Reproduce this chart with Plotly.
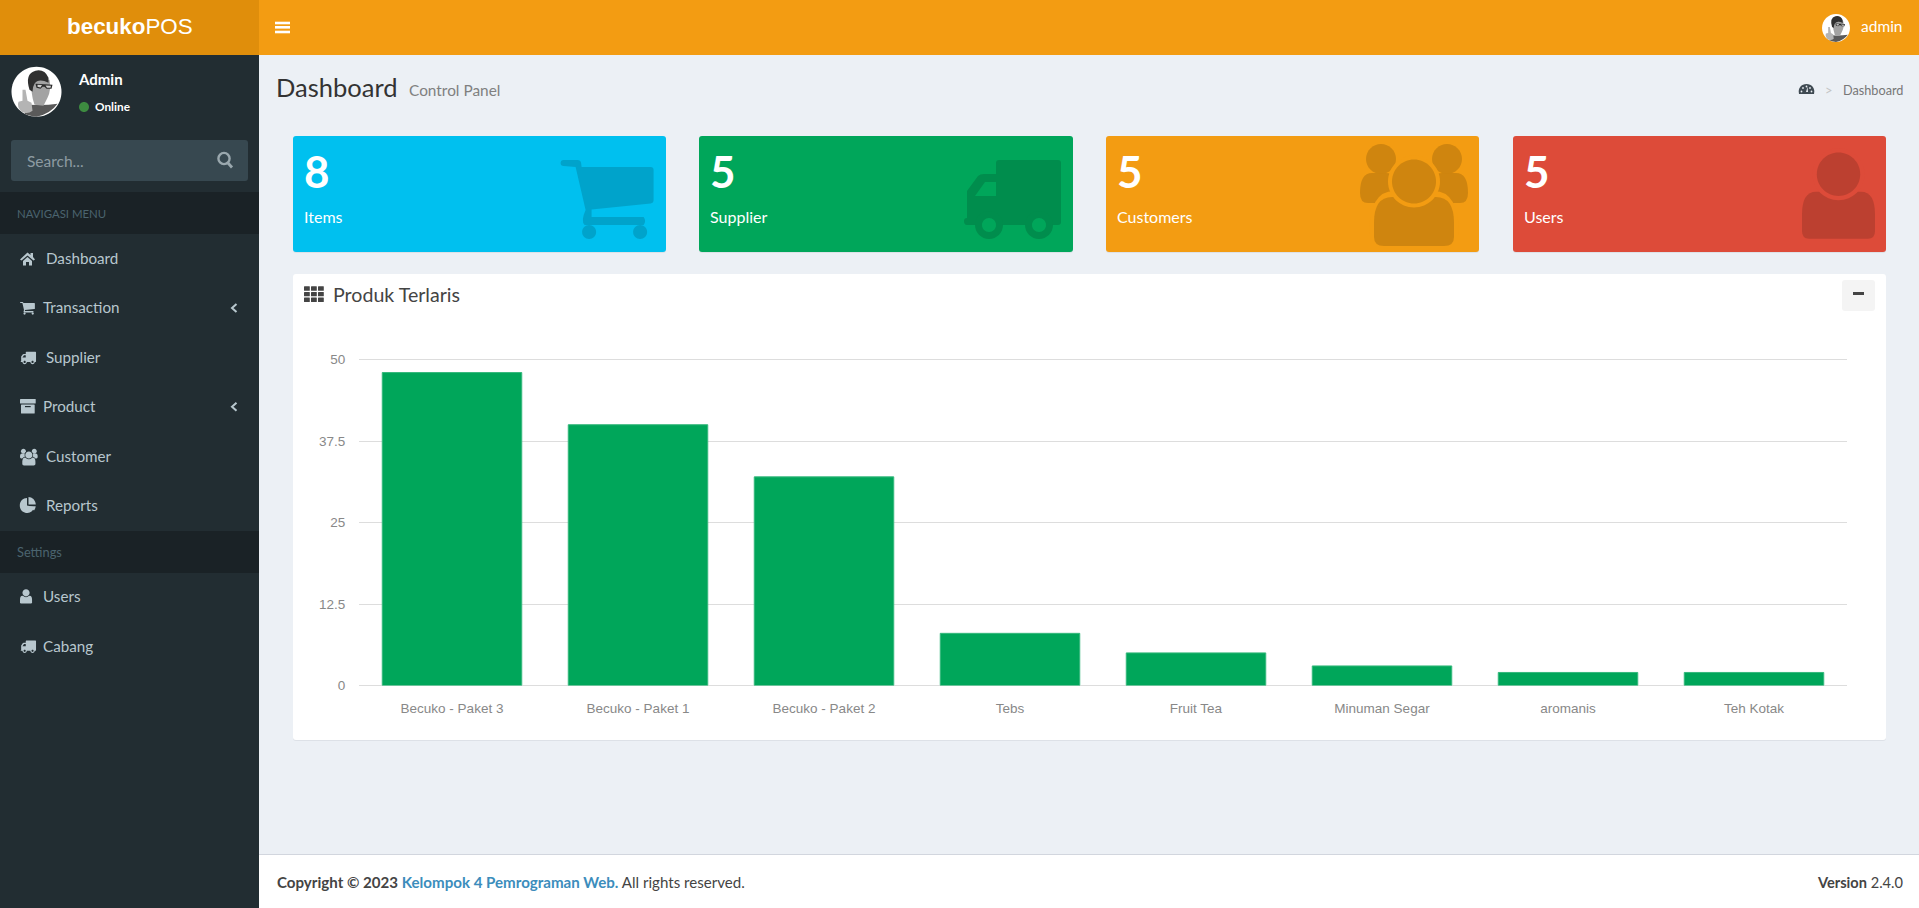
import re
import plotly.graph_objects as go  # main chart

W = 1919
H = 908

# CHART DATA
products = ["Becuko - Paket 3", "Becuko - Paket 1", "Becuko - Paket 2", "Tebs",
            "Fruit Tea", "Minuman Segar", "aromanis", "Teh Kotak"]
sold = [48, 40, 32, 8, 5, 3, 2, 2]
y_ticks = [0, 12.5, 25, 37.5, 50]
y_tick_labels = ["0", "12.5", "25", "37.5", "50"]

# CARD DATA
card_counts = ["8", "5", "5", "5"]
card_names = ["Items", "Supplier", "Customers", "Users"]

BODY = "Lato"
ARIAL = "Liberation Sans"
SIDEBAR = "#222d32"
MENU = "#b8c7ce"

shapes = []
notes = []


def flip_y(d):
    # pixel sized shapes count y upwards from the anchor, page coords count down
    count = [0]

    def repl(m):
        count[0] += 1
        if count[0] % 2 == 0:
            return f"{-float(m.group(0)):.2f}"
        return m.group(0)

    return re.sub(r"-?\d+\.?\d*", repl, d)


def path(d, fill=None, line=None, width=0):
    s = dict(type="path", path=flip_y(d), xref="paper", yref="paper", xsizemode="pixel", ysizemode="pixel",
             xanchor=0, yanchor=1, layer="below", line=dict(width=width, color=line or "rgba(0,0,0,0)"))
    if fill:
        s["fillcolor"] = fill
    shapes.append(s)


def rect(x0, y0, x1, y1, fill, r=0):
    if r == 0:
        d = f"M{x0} {y0} L{x1} {y0} L{x1} {y1} L{x0} {y1} Z"
    else:
        d = (f"M{x0+r} {y0} L{x1-r} {y0} Q{x1} {y0} {x1} {y0+r} L{x1} {y1-r} Q{x1} {y1} {x1-r} {y1} "
             f"L{x0+r} {y1} Q{x0} {y1} {x0} {y1-r} L{x0} {y0+r} Q{x0} {y0} {x0+r} {y0} Z")
    path(d, fill)


def circle_d(cx, cy, r):
    k = r * 0.5523
    return (f"M{cx-r} {cy} C{cx-r} {cy-k} {cx-k} {cy-r} {cx} {cy-r} C{cx+k} {cy-r} {cx+r} {cy-k} {cx+r} {cy} "
            f"C{cx+r} {cy+k} {cx+k} {cy+r} {cx} {cy+r} C{cx-k} {cy+r} {cx-r} {cy+k} {cx-r} {cy} Z")


def circle(cx, cy, r, fill):
    path(circle_d(cx, cy, r), fill)


def text(x, y, s, size, color, font=BODY, anchor="left"):
    notes.append(dict(x=x / W, y=1 - y / H, xref="paper", yref="paper", text=s, showarrow=False,
                      xanchor=anchor, yanchor="middle", borderpad=0, borderwidth=0,
                      font=dict(family=font, size=size, color=color)))


# ICONS, drawn from their big card size and scaled down for the menu
def pts(ox, oy, s, coords):
    out = []
    for c in coords:
        if isinstance(c, str):
            out.append(c)
        else:
            out.append(f"{ox + c[0] * s:.2f} {oy + c[1] * s:.2f}")
    return " ".join(out)


def cart(ox, oy, s, col):
    path(pts(ox, oy, s, ["M", (0, 3), "Q", (0, 0), (3, 0), "L", (17, 0), "Q", (20, 0), (20.5, 3), "L", (21, 7),
                         "L", (90, 7), "Q", (93, 7), (93, 10), "L", (93, 40), "Q", (93, 43), (90, 43.5),
                         "L", (31, 49.5), "L", (31, 57), "L", (83, 57), "Q", (86, 61), (83, 65),
                         "L", (24, 65), "Q", (20, 61), (25, 50), "L", (15, 7), "L", (3, 6), "Q", (0, 6), (0, 3), "Z"]), col)
    circle(ox + 28.5 * s, oy + 72 * s, 7 * s, col)
    circle(ox + 79.5 * s, oy + 72 * s, 7 * s, col)


def truck(ox, oy, s, col, bg):
    path(pts(ox, oy, s, ["M", (32, 3), "Q", (32, 0), (35, 0), "L", (94, 0), "Q", (97, 0), (97, 3), "L", (97, 62),
                         "Q", (97, 65), (94, 65), "L", (3, 65), "Q", (0, 65), (0, 61), "Q", (0, 58), (3, 58),
                         "L", (3, 31), "L", (14, 16), "Q", (16, 14), (20, 14), "L", (32, 14), "Z"]), col)
    path(pts(ox, oy, s, ["M", (21, 22), "L", (32, 22), "L", (32, 36), "L", (11, 36), "Z"]), bg)
    for wx in (25, 75):
        circle(ox + wx * s, oy + 65 * s, 14 * s, col)
        circle(ox + wx * s, oy + 65 * s, 7 * s, bg)


def people(ox, oy, s, col, bg):
    for bx in (0, 70):
        path(pts(ox, oy, s, ["M", (bx, 48), "Q", (bx, 28), (bx + 12, 28), "L", (bx + 26, 28), "Q", (bx + 38, 28), (bx + 38, 48),
                             "Q", (bx + 38, 58), (bx + 30, 58), "L", (bx + 8, 58), "Q", (bx, 58), (bx, 48), "Z"]), col)
    circle(ox + 21 * s, oy + 14 * s, 15 * s, col)
    circle(ox + 87 * s, oy + 14 * s, 15 * s, col)
    path(pts(ox, oy, s, ["M", (9, 90), "Q", (9, 46), (34, 46), "L", (74, 46), "Q", (99, 46), (99, 90), "L", (99, 104),
                         "L", (9, 104), "Z"]), bg)
    path(pts(ox, oy, s, ["M", (14, 78), "Q", (14, 52), (32, 52), "L", (76, 52), "Q", (94, 52), (94, 78), "L", (94, 92),
                         "Q", (94, 101), (84, 101), "L", (24, 101), "Q", (14, 101), (14, 92), "Z"]), col)
    circle(ox + 54 * s, oy + 36.5 * s, 26 * s, bg)
    circle(ox + 54 * s, oy + 36.5 * s, 22 * s, col)


def user(ox, oy, s, col, bg):
    path(pts(ox, oy, s, ["M", (0, 62), "Q", (0, 39), (14, 39), "L", (59, 39), "Q", (73, 39), (73, 62), "L", (73, 78),
                         "Q", (73, 86), (66, 86), "L", (7, 86), "Q", (0, 86), (0, 78), "Z"]), col)
    circle(ox + 36.5 * s, oy + 21.5 * s, 26 * s, bg)
    circle(ox + 36.5 * s, oy + 21.5 * s, 21.7 * s, col)


def avatar(cx, cy, r):
    k = r / 25
    circle(cx, cy, r, "#ffffff")
    # shirt
    path(pts(cx, cy, k, ["M", (-6, 13), "Q", (8, 14), (21, 12), "Q", (14, 22), (0, 25), "Q", (-8, 24), (-12, 22), "Z"]), "#5a5a5a")
    # face
    path(pts(cx, cy, k, ["M", (-5, -12), "L", (13, -12), "Q", (15, -2), (11, 6), "L", (7, 14), "L", (-2, 13), "Q", (-6, 2), (-5, -12), "Z"]), "#a3a3a3")
    # hair
    path(pts(cx, cy, k, ["M", (-7, -2), "Q", (-12, -18), (-1, -21), "Q", (8, -23), (12, -14), "L", (12, -9), "Q", (2, -14), (-2, -8), "Q", (-4, -5), (-4, 0), "Z"]), "#303030")
    # glasses
    path(pts(cx, cy, k, ["M", (-1, -8), "L", (16, -7), "L", (15, -3), "L", (10, -3), "L", (8, -5), "L", (6, -5), "L", (4, -3), "L", (0, -4), "Z"]), "#2a2a2a")
    path(pts(cx, cy, k, ["M", (1, -7), "L", (5.5, -6.6), "L", (4, -4.2), "L", (1, -5), "Z"]), "#cfcfcf")
    path(pts(cx, cy, k, ["M", (9, -6.2), "L", (14.5, -6), "L", (14, -4), "L", (10.5, -4), "Z"]), "#cfcfcf")
    # hand with raised finger
    path(pts(cx, cy, k, ["M", (-14, -2), "L", (-11, -2), "L", (-9, 9), "L", (-5, 11), "L", (-4, 19), "Q", (-9, 23), (-15, 20),
                         "Q", (-20, 15), (-18, 10), "L", (-14, 9), "Z"]), "#b4b4b4")


# PAGE BACKGROUND PIECES
rect(259, 55, W, 854, "#ecf0f5")
rect(0, 0, 259, 55, "#e08e0b")
rect(259, 0, W, 55, "#f39c12")
rect(0, 55, 259, H, SIDEBAR)
rect(0, 192, 259, 234, "#1a2226")
rect(0, 531, 259, 573, "#1a2226")
rect(11, 140, 248, 181, "#374850", 3)
rect(259, 854, W, H, "#ffffff")
rect(259, 854, W, 855, "#d2d6de")

# HEADER
text(129.5, 26, "<b>becuko</b>POS", 22.4, "#ffffff", ARIAL, "center")
for y0 in (21.7, 26, 30.7):
    rect(275, y0, 290, y0 + 2.6, "#ffffff")
avatar(1836, 28, 14)
text(1861, 26.5, "admin", 15.5, "#ffffff")

# SIDEBAR USER AND SEARCH
avatar(36.5, 91.7, 25)
text(77.7, 79, "<b>Admin</b>", 15, "#ffffff")
circle(84, 107, 5, "#3d8b40")
text(95, 106.5, "<b>Online</b>", 11.8, "#ffffff")
text(27.3, 160.5, "Search...", 15.5, "#8d9ba2")
path(circle_d(224, 158.5, 5.6), None, "#9aa8ae", 2.4)
path("M228 163 L232 167.5", None, "#9aa8ae", 2.8)
text(17.3, 213, "NAVIGASI MENU", 11.4, "#4b646f")
text(17.3, 551.7, "Settings", 12.8, "#4b646f")

# SIDEBAR MENU
menu_names = ["Dashboard", "Transaction", "Supplier", "Product", "Customer", "Reports", "Users", "Cabang"]
menu_y = [258, 307, 356.7, 405.7, 455.7, 505, 595.7, 645.7]
menu_x = [46, 43, 45.7, 43, 45.7, 46, 43, 43]
for name, y, x in zip(menu_names, menu_y, menu_x):
    text(x, y, name, 15.2, MENU)
for y in (308, 406.7):
    path(f"M236.5 {y-4} L232 {y} L236.5 {y+4}", None, MENU, 2)

# home icon
path("M20 259.5 L27.5 252.5 L30.5 255 L30.5 253 L33 253 L33 257 L35 259.5 L33.5 260.5 L27.5 255.5 L21.5 260.5 Z", MENU)
path("M23 261 L27.5 257 L32 261 L32 265.5 L29 265.5 L29 262 L26 262 L26 265.5 L23 265.5 Z", MENU)
cart(20, 302, 0.16, MENU)
truck(20.7, 351.7, 0.158, MENU, SIDEBAR)
# product box
rect(20, 399, 35.7, 403.5, MENU, 0.6)
rect(21, 404.5, 34.7, 413.5, MENU, 0.6)
rect(25, 406, 30.7, 407.2, SIDEBAR)
people(20, 449, 0.164, MENU, SIDEBAR)
# reports pie
path("M27 498 L27 505.5 L34 507 Q33 512.5 27.5 513 C22 513 19.8 509 19.8 505.5 C19.8 501 23 498 27 498 Z", MENU)
path("M28.5 497 C32 497 35.5 500 35.8 504.5 L28.5 504.5 Z", MENU)
path("M29 506.3 L35.7 506.3 Q35.5 508.5 34 510.5 Z", MENU)
user(20, 589.3, 0.165, MENU, SIDEBAR)
truck(20.7, 640.5, 0.158, MENU, SIDEBAR)

# TITLE ROW
text(276, 87, "Dashboard", 25.5, "#333333")
text(409.3, 89.7, "Control Panel", 15.4, "#808080")
# breadcrumb gauge
path("M1799 94 C1797.5 88 1801.5 84 1806.5 84 C1811.5 84 1815.5 88 1814 94 Z", "#3f4a52")
for dx, dy in ((-5, 1.5), (-3.5, -2), (0, -3.5), (3.5, -2), (5, 1.5)):
    circle(1806.5 + dx, 90 + dy, 0.9, "#ecf0f5")
path("M1806 92 L1807.5 87 L1808 92 Z", "#ecf0f5")
text(1829, 89.7, "&gt;", 13, "#c4c4c4", BODY, "center")
text(1903, 89.7, "Dashboard", 12.7, "#777777", BODY, "right")

# SMALL BOXES
card_x0 = [293, 699, 1106, 1513]
card_x1 = [666, 1073, 1479, 1886]
card_colors = ["#00c0ef", "#00a65a", "#f39c12", "#dd4b39"]
card_dark = ["#00a3cb", "#008d4d", "#cf850f", "#bc4030"]
for i in range(4):
    rect(card_x0[i], 137, card_x1[i], 253, "#dde1e7", 3)
    rect(card_x0[i], 136, card_x1[i], 252, card_colors[i], 3)
    text(card_x0[i] + 11, 170.5, f"<b>{card_counts[i]}</b>", 44, "#ffffff")
    text(card_x0[i] + 10.7, 216.7, card_names[i], 16, "#ffffff")
cart(560.6, 160, 1, card_dark[0])
truck(964, 160, 1, card_dark[1], card_colors[1])
people(1360, 145, 1, card_dark[2], card_colors[2])
user(1802, 152.7, 1, card_dark[3], card_colors[3])

# CHART PANEL
rect(293, 275, 1886, 741, "#dde1e7", 3)
rect(293, 274, 1886, 740, "#ffffff", 3)
for row in range(3):
    for col in range(3):
        rect(304 + col * 7, 286.3 + row * 5.6, 304 + col * 7 + 5.8, 286.3 + row * 5.6 + 4.4, "#444444", 0.5)
text(332.6, 294.7, "Produk Terlaris", 19.6, "#444444")
rect(1842, 280, 1875, 311, "#f4f4f4", 3)
rect(1853, 292, 1864, 295, "#444444")

# FOOTER
text(276.5, 882, "<b>Copyright © 2023 </b><b style='color:#3c8dbc'>Kelompok 4 Pemrograman Web.</b> All rights reserved.", 15.1, "#444444")
text(1903, 882, "<b>Version</b> 2.4.0", 14.6, "#444444", BODY, "right")

# BAR CHART, range runs past 50 so the top gridline still draws
fig = go.Figure()
fig.add_trace(go.Bar(x=products, y=sold, marker_color="#00a65a",
                     marker_line=dict(color="#35b87c", width=1)))
fig.update_layout(
    width=W, height=H, autosize=False,
    margin=dict(l=0, r=0, t=0, b=0, pad=0, autoexpand=False),
    paper_bgcolor="#ecf0f5",
    plot_bgcolor="rgba(0,0,0,0)",
    showlegend=False,
    bargap=0.25,
    shapes=shapes,
    annotations=notes,
    xaxis=dict(domain=[359 / W, 1847 / W], type="category", showgrid=False, showline=False, zeroline=False,
               ticks="outside", ticklen=10, tickwidth=1, tickcolor="rgba(0,0,0,0)",
               tickfont=dict(family=ARIAL, size=13.5, color="#888888"), tickangle=0),
    yaxis=dict(domain=[1 - 685.5 / H, 1 - 353 / H], range=[0, 51], tickmode="array", tickvals=y_ticks, ticktext=y_tick_labels,
               showgrid=True, gridcolor="#dddddd", gridwidth=1, zeroline=True, zerolinecolor="#dddddd", zerolinewidth=1,
               showline=False, ticks="outside", ticklen=10, tickwidth=1, tickcolor="rgba(0,0,0,0)",
               tickfont=dict(family=ARIAL, size=13.5, color="#888888")),
)

fig.write_html("out.html", config={"displayModeBar": False},
               post_script="document.body.style.margin='0';document.body.style.overflow='hidden';")
